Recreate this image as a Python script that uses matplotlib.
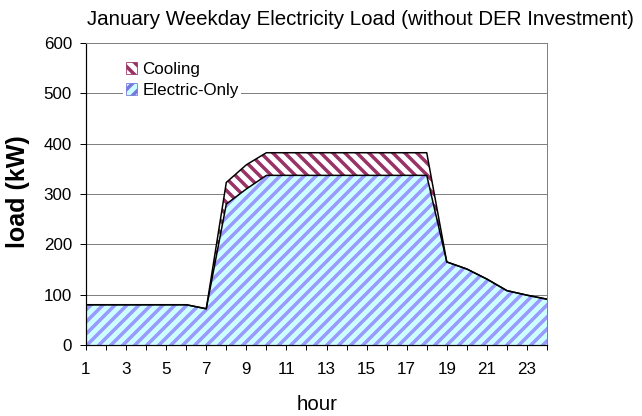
import matplotlib
matplotlib.use("Agg")
import matplotlib.pyplot as plt
from matplotlib.patches import Patch
import numpy as np

hours = list(range(1, 25))
electric_only = [80, 80, 80, 80, 80, 80, 72, 280, 310, 337, 337, 337, 337, 337,
                 337, 337, 337, 337, 165, 151, 131, 108, 99, 91]
cooling = [0, 0, 0, 0, 0, 0, 0, 43, 48, 45, 45, 45, 45, 45,
           45, 45, 45, 45, 0, 0, 0, 0, 0, 0]
xtick_labels = [str(h) if h % 2 == 1 else "" for h in hours]
yticks = [0, 100, 200, 300, 400, 500, 600]

plt.rcParams['font.family'] = ['Liberation Sans', 'DejaVu Sans']
plt.rcParams['hatch.linewidth'] = 3.5

DPI = 72
W, H = 642, 416
fig = plt.figure(figsize=(W / DPI, H / DPI), dpi=DPI)
ax = fig.add_axes([86 / W, 1 - 345 / H, (547 - 86) / W, (345 - 43) / H])

x = np.array(hours)
e = np.array(electric_only)
c = np.array(cooling)
total = e + c

ax.fill_between(x, 0, e, facecolor='#CCFFFF', edgecolor='#9999FF', hatch='//', linewidth=0, zorder=2)
ax.fill_between(x, e, total, facecolor='white', edgecolor='#993366', hatch='\\\\', linewidth=0, zorder=2)
ax.plot(x, e, color='black', lw=1.5, zorder=3)
ax.plot(x, total, color='black', lw=1.5, zorder=3)

ax.set_xlim(1, 24)
ax.set_ylim(0, 600)
ax.set_yticks(yticks)
ax.set_xticks(hours)
ax.set_xticklabels(xtick_labels)
ax.yaxis.grid(True, color='#808080', lw=1)
ax.set_axisbelow(True)
ax.tick_params(axis='both', direction='out', width=1, labelsize=17, colors='black')
ax.tick_params(axis='x', length=5, pad=12)
ax.tick_params(axis='y', length=6, pad=8)
for s in ['left', 'bottom']:
    ax.spines[s].set_color('black')
    ax.spines[s].set_linewidth(1.2)
for s in ['top', 'right']:
    ax.spines[s].set_color('#808080')
    ax.spines[s].set_linewidth(1)

fig.text(18 / W, 1 - 192 / H, 'load (kW)', rotation=90, ha='center', va='center',
         fontsize=25, fontweight='bold')
fig.text(317 / W, 1 - 405 / H, 'hour', ha='center', va='center', fontsize=20.5)
fig.text(360 / W, 1 - 25 / H, 'January Weekday Electricity Load (without DER Investment)',
         ha='center', va='baseline', fontsize=20.5)

handles = [Patch(facecolor='white', edgecolor='#993366', hatch='\\\\', lw=0.8, label='Cooling'),
           Patch(facecolor='#CCFFFF', edgecolor='#7777DD', hatch='//', lw=0.8, label='Electric-Only')]
leg = ax.legend(handles=handles, loc='upper left', bbox_to_anchor=(37 / 461, 1 - 16 / 302),
                frameon=True, fancybox=False, edgecolor='none', facecolor='white', framealpha=1,
                fontsize=17, handlelength=0.7, handleheight=0.7, handletextpad=0.3,
                labelspacing=0.35, borderpad=0.15, borderaxespad=0)

fig.savefig('out.png', dpi=DPI)
